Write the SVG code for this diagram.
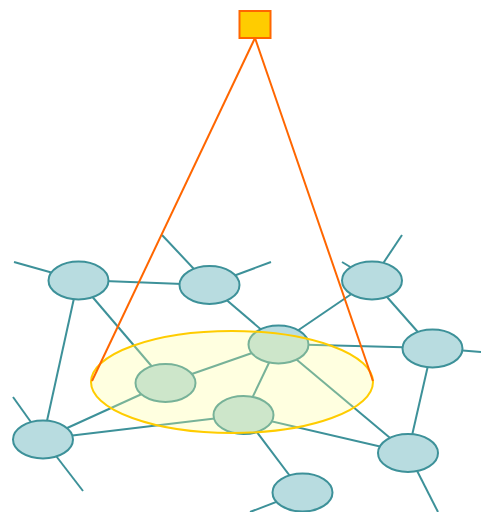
<svg xmlns="http://www.w3.org/2000/svg" width="481" height="512" viewBox="0 0 481 512">
<style>
.e{stroke:#3d9199;stroke-width:2;fill:none}
.n{fill:#b8dce0;stroke:#3d9199;stroke-width:2}
.p{stroke:#ff6600;stroke-width:2;fill:none}
</style>
<rect width="481" height="512" fill="#ffffff"/>
<g id="connectors">
<line class="e" x1="78" y1="280" x2="14" y2="262"/>
<line class="e" x1="78" y1="280" x2="209" y2="285"/>
<line class="e" x1="78" y1="280" x2="43" y2="439"/>
<line class="e" x1="78" y1="280" x2="166" y2="383"/>
<line class="e" x1="209" y1="285" x2="162" y2="235"/>
<line class="e" x1="209" y1="285" x2="271" y2="262"/>
<line class="e" x1="209" y1="285" x2="278" y2="344"/>
<line class="e" x1="372" y1="280" x2="342" y2="262"/>
<line class="e" x1="372" y1="280" x2="402" y2="235"/>
<line class="e" x1="372" y1="280" x2="278" y2="344"/>
<line class="e" x1="372" y1="280" x2="432" y2="348"/>
<line class="e" x1="278" y1="344" x2="432" y2="348"/>
<line class="e" x1="432" y1="348" x2="481" y2="352"/>
<line class="e" x1="432" y1="348" x2="408" y2="453"/>
<line class="e" x1="408" y1="453" x2="438" y2="512"/>
<line class="e" x1="408" y1="453" x2="244" y2="415"/>
<line class="e" x1="278" y1="344" x2="408" y2="453"/>
<line class="e" x1="43" y1="439" x2="244" y2="415"/>
<line class="e" x1="43" y1="439" x2="166" y2="383"/>
<line class="e" x1="43" y1="439" x2="13" y2="397"/>
<line class="e" x1="43" y1="439" x2="83" y2="491"/>
<line class="e" x1="244" y1="415" x2="302" y2="492"/>
<line class="e" x1="302" y1="492" x2="250" y2="512"/>
<line class="e" x1="166" y1="383" x2="278" y2="344"/>
<line class="e" x1="278" y1="344" x2="244" y2="415"/>
</g>
<g id="nodeA"><ellipse class="n" cx="78.5" cy="280.5" rx="30" ry="19"/></g>
<g id="nodeB"><ellipse class="n" cx="209.5" cy="285" rx="30" ry="19"/></g>
<g id="nodeC"><ellipse class="n" cx="278.5" cy="344.5" rx="30" ry="19"/></g>
<g id="nodeD"><ellipse class="n" cx="372" cy="280.5" rx="30" ry="19"/></g>
<g id="nodeE"><ellipse class="n" cx="432.5" cy="348.5" rx="30" ry="19"/></g>
<g id="nodeF"><ellipse class="n" cx="43" cy="439.5" rx="30" ry="19"/></g>
<g id="nodeG"><ellipse class="n" cx="408" cy="453" rx="30" ry="19"/></g>
<g id="nodeH"><ellipse class="n" cx="302.5" cy="492.5" rx="30" ry="19"/></g>
<g id="nodeI"><ellipse class="n" cx="165.5" cy="383" rx="30" ry="19"/></g>
<g id="nodeK"><ellipse class="n" cx="243.5" cy="415" rx="30" ry="19"/></g>
<g id="region"><ellipse cx="232" cy="382" rx="141" ry="51" fill="#ffff99" fill-opacity="0.3" stroke="#ffcc00" stroke-width="2"/></g>
<g id="projection">
<line class="p" x1="255" y1="38" x2="92" y2="381"/>
<line class="p" x1="255" y1="38" x2="373" y2="381"/>
</g>
<g id="source"><rect x="239.5" y="11" width="31" height="27" fill="#ffcc00" stroke="#ff6600" stroke-width="2"/></g>
</svg>
